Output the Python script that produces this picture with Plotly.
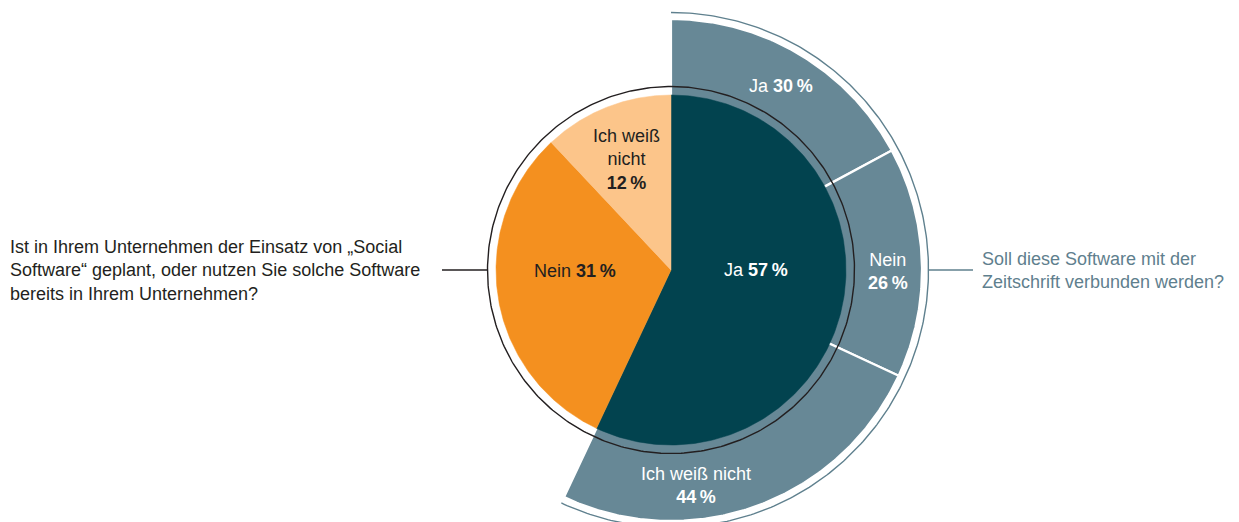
import numpy as np
import plotly.graph_objects as go

# ---- data ----
inner_labels = ["Ja", "Nein", "Ich weiß nicht"]
inner_values = [57, 31, 12]
outer_labels = ["Ja", "Nein", "Ich weiß nicht"]
outer_values = [30, 26, 44]
question_inner = "Ist in Ihrem Unternehmen der Einsatz von „Social<br>Software“ geplant, oder nutzen Sie solche Software<br>bereits in Ihrem Unternehmen?"
question_outer = "Soll diese Software mit der<br>Zeitschrift verbunden werden?"

# ---- styling / geometry (pixels) ----
W, H = 1239, 522
CX, CY = 671, 270
R_PIE = 175
R_CIRCLE = 183.5
R_RING_IN = 120
R_RING_OUT = 251
R_OUTLINE = 257.5
inner_colors = ["#02434F", "#F4901F", "#FCC58A"]
ring_color = "#678896"
outline_color = "#5F808E"
FONT = "Liberation Sans, Arial, Helvetica, sans-serif"
FS = 18


def px(x, y):
    return x - CX, CY - y


def arc(r, a0, a1, n=200):
    t = np.radians(np.linspace(a0, a1, n))
    return r * np.sin(t), r * np.cos(t)


def sector(r0, r1, a0, a1):
    xo, yo = arc(r1, a0, a1)
    if r0 <= 0:
        xi, yi = np.array([0.0]), np.array([0.0])
    else:
        xi, yi = arc(r0, a1, a0)
    x = np.concatenate([xo, xi, xo[:1]])
    y = np.concatenate([yo, yi, yo[:1]])
    return x, y


fig = go.Figure()

# angles of inner slices (clockwise from 12 o'clock)
tot = sum(inner_values)
inner_edges = np.concatenate([[0], np.cumsum(inner_values) / tot * 360])
ja_span = inner_edges[1]

# outer ring (breakdown of "Ja")
otot = sum(outer_values)
outer_edges = np.concatenate([[0], np.cumsum(outer_values) / otot * ja_span])
for i in range(len(outer_values)):
    x, y = sector(R_RING_IN, R_RING_OUT, outer_edges[i], outer_edges[i + 1])
    fig.add_trace(go.Scatter(x=x, y=y, mode="lines", fill="toself",
                             fillcolor=ring_color,
                             line=dict(color="white", width=2.2),
                             hoverinfo="skip", showlegend=False))

# inner pie
for i in range(len(inner_values)):
    x, y = sector(0, R_PIE, inner_edges[i], inner_edges[i + 1])
    fig.add_trace(go.Scatter(x=x, y=y, mode="lines", fill="toself",
                             fillcolor=inner_colors[i],
                             line=dict(color=inner_colors[i], width=0.5),
                             hoverinfo="skip", showlegend=False))

# thin black circle around the pie
x, y = arc(R_CIRCLE, 0, 360, 400)
fig.add_trace(go.Scatter(x=x, y=y, mode="lines",
                         line=dict(color="#231F20", width=1.4),
                         hoverinfo="skip", showlegend=False))

# thin outline around the outer ring
x, y = arc(R_OUTLINE, 0, ja_span, 300)
fig.add_trace(go.Scatter(x=x, y=y, mode="lines",
                         line=dict(color=outline_color, width=1.4),
                         hoverinfo="skip", showlegend=False))

# connector lines
lx0, _ = px(442, 270)
fig.add_trace(go.Scatter(x=[lx0, -R_CIRCLE], y=[0, 0], mode="lines",
                         line=dict(color="#231F20", width=1.3),
                         hoverinfo="skip", showlegend=False))
rx1, _ = px(973, 270)
fig.add_trace(go.Scatter(x=[R_OUTLINE, rx1], y=[0, 0], mode="lines",
                         line=dict(color=outline_color, width=1.3),
                         hoverinfo="skip", showlegend=False))


def lab(text, x, y, color, xanchor="center", align="center"):
    ax, ay = px(x, y)
    fig.add_annotation(x=ax, y=ay, text=text, showarrow=False,
                       xanchor=xanchor, yanchor="middle", align=align,
                       font=dict(family=FONT, size=FS, color=color))


def fmt(label, v, sep=" "):
    return f"{label}{sep}<b>{v}\u2009%</b>"


# inner labels
lab(fmt(inner_labels[0], inner_values[0]), 756, 270, "white")
lab(fmt(inner_labels[1], inner_values[1]), 575, 271, "#231F20")
lab("Ich weiß<br>nicht<br><b>%d\u2009%%</b>" % inner_values[2], 626, 159, "#231F20")

# outer labels
lab(fmt(outer_labels[0], outer_values[0]), 781, 86, "white")
lab(fmt(outer_labels[1], outer_values[1], "<br>"), 888, 271, "white")
lab(fmt(outer_labels[2], outer_values[2], "<br>"), 696, 485, "white")

# questions
lab(question_inner, 8, 270, "#231F20", xanchor="left", align="left")
lab(question_outer, 980, 270, "#5F808E", xanchor="left", align="left")

fig.update_layout(
    width=W, height=H,
    margin=dict(l=0, r=0, t=0, b=0),
    paper_bgcolor="white", plot_bgcolor="white",
    showlegend=False,
    xaxis=dict(range=[-CX, W - CX], visible=False, fixedrange=True),
    yaxis=dict(range=[-(H - CY), CY], visible=False, fixedrange=True),
)

fig.write_html("out.html")
